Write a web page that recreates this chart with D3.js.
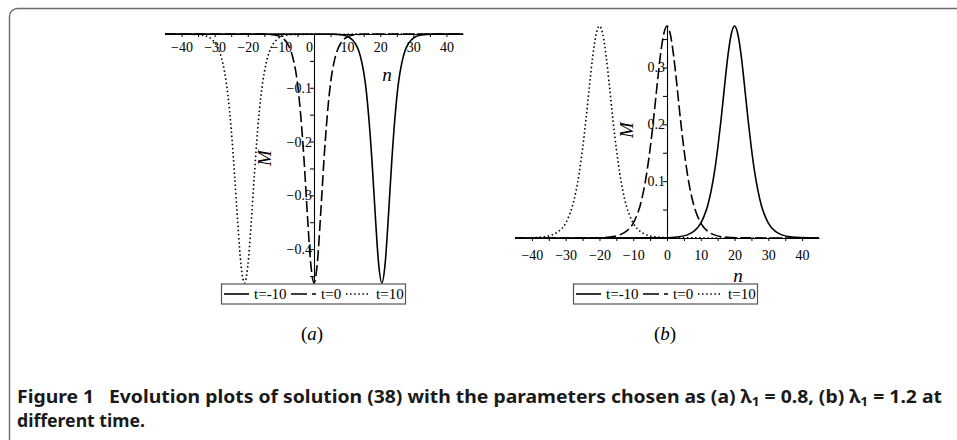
<!DOCTYPE html>
<html>
<head>
<meta charset="utf-8">
<script src="https://cdn.jsdelivr.net/npm/d3@7"></script>
<style>
  body { margin: 0; background: #fff; }
</style>
</head>
<body>
<script>
// legend entries, one per curve
var seriesNames = ["t=-10", "t=0", "t=10"];

// panel (a), lambda1 = 0.8 : dips
var aSolidN = [-45, 5.5, 8.5, 10.5, 12.5, 13.5, 14.5, 15.5, 16.5, 17.5, 18.5, 19.5, 20.5, 21.5, 22.5, 23.5, 24.5, 25.5, 26.5, 27.5, 28.5, 30.5, 32.5, 35.5, 45];
var aSolidM = [0, -0.0003, -0.0018, -0.0056, -0.018, -0.031, -0.054, -0.091, -0.152, -0.235, -0.336, -0.426, -0.463, -0.426, -0.336, -0.235, -0.152, -0.091, -0.054, -0.031, -0.018, -0.0056, -0.0018, -0.0003, 0];
var aDashN = [-45, -15, -12, -10, -8, -7, -6, -5, -4, -3, -2, -1, 0, 1, 2, 3, 4, 5, 6, 7, 8, 10, 12, 15, 45];
var aDashM = [0, -0.0003, -0.0018, -0.0056, -0.018, -0.031, -0.054, -0.091, -0.152, -0.235, -0.336, -0.426, -0.463, -0.426, -0.336, -0.235, -0.152, -0.091, -0.054, -0.031, -0.018, -0.0056, -0.0018, -0.0003, 0];
var aDotN = [-45, -36, -33, -31, -29, -28, -27, -26, -25, -24, -23, -22, -21, -20, -19, -18, -17, -16, -15, -14, -13, -11, -9, -6, 45];
var aDotM = [0, -0.0007, -0.0032, -0.0092, -0.026, -0.043, -0.071, -0.114, -0.177, -0.261, -0.354, -0.432, -0.463, -0.432, -0.354, -0.261, -0.177, -0.114, -0.071, -0.043, -0.026, -0.0092, -0.0032, -0.0007, 0];

// panel (b), lambda1 = 1.2 : peaks
var bSolidN = [-45, -2, 3, 6, 8, 10, 11, 12, 13, 14, 15, 16, 17, 18, 19, 20, 21, 22, 23, 24, 25, 26, 27, 28, 29, 30, 32, 34, 37, 42, 45];
var bSolidM = [0, 0.0002, 0.0017, 0.0055, 0.012, 0.026, 0.039, 0.056, 0.081, 0.114, 0.157, 0.208, 0.265, 0.319, 0.358, 0.373, 0.358, 0.319, 0.265, 0.208, 0.157, 0.114, 0.081, 0.056, 0.039, 0.026, 0.012, 0.0055, 0.0017, 0.0002, 0.0001];
var bDashN = [-45, -22, -17, -14, -12, -10, -9, -8, -7, -6, -5, -4, -3, -2, -1, 0, 1, 2, 3, 4, 5, 6, 7, 8, 9, 10, 12, 14, 17, 22, 45];
var bDashM = [0, 0.0002, 0.0017, 0.0055, 0.012, 0.026, 0.039, 0.056, 0.081, 0.114, 0.157, 0.208, 0.265, 0.319, 0.358, 0.373, 0.358, 0.319, 0.265, 0.208, 0.157, 0.114, 0.081, 0.056, 0.039, 0.026, 0.012, 0.0055, 0.0017, 0.0002, 0];
var bDotN = [-45, -42, -37, -34, -32, -30, -29, -28, -27, -26, -25, -24, -23, -22, -21, -20, -19, -18, -17, -16, -15, -14, -13, -12, -11, -10, -8, -6, -3, 2, 45];
var bDotM = [0.0001, 0.0002, 0.0017, 0.0055, 0.012, 0.026, 0.039, 0.056, 0.081, 0.114, 0.157, 0.208, 0.265, 0.319, 0.358, 0.373, 0.358, 0.319, 0.265, 0.208, 0.157, 0.114, 0.081, 0.056, 0.039, 0.026, 0.012, 0.0055, 0.0017, 0.0002, 0];

var xTicks = d3.range(-40, 41, 5);
var aYTicks = [-0.45, -0.4, -0.35, -0.3, -0.25, -0.2, -0.15, -0.1, -0.05];
var bYTicks = [0.05, 0.1, 0.15, 0.2, 0.25, 0.3, 0.35];

var width = 957, height = 440;
var serif = '"Liberation Serif", "Times New Roman", serif';
var sans = '"Noto Sans", "Open Sans", sans-serif';

var svg = d3.select("body").append("svg")
  .attr("width", width)
  .attr("height", height);

// figure frame, only the top-left corner is inside the picture
svg.append("rect")
  .attr("x", 9.5).attr("y", 8.5)
  .attr("width", 980).attr("height", 460)
  .attr("rx", 8)
  .attr("fill", "none")
  .attr("stroke", "#6a6a6a")
  .attr("stroke-width", 1.4);

var dashStyles = [null, "11,4", "1.5,2.6"];
var legendDash = [null, "16,5", "1.5,2.6"];

var zip = (ns, ms) => ns.map((n, i) => [n, ms[i]]);

function panel(o) {
  var g = svg.append("g");
  var x = o.x, y = o.y;

  // x axis
  var xa = g.append("g")
    .attr("transform", "translate(0," + y(0) + ")")
    .call(d3.axisBottom(x).tickValues(xTicks).tickSize(3).tickSizeOuter(0)
      .tickPadding(o.xPad)
      .tickFormat(d => d % 10 === 0 ? d3.format("d")(d) : ""));
  xa.selectAll("text")
    .style("font-family", serif).style("font-size", "14px")
    .attr("fill", "#000")
    .attr("dx", d => d === 0 ? o.zeroShift : 0);

  // y axis
  var ya = g.append("g")
    .attr("transform", "translate(" + x(0) + ",0)")
    .call(d3.axisLeft(y).tickValues(o.yTicks).tickSize(4).tickSizeOuter(0)
      .tickPadding(-2)
      .tickFormat(d => Math.round(Math.abs(d) * 100) % 10 === 0 ? d3.format(".1f")(d) : ""));
  ya.selectAll("text")
    .style("font-family", serif).style("font-size", "14px")
    .attr("fill", "#000");

  g.selectAll(".domain").attr("stroke", "#000").attr("stroke-width", 1.1);
  g.selectAll(".tick line").attr("stroke", "#000");

  // curves
  var line = d3.line()
    .x(d => x(d[0]))
    .y(d => y(d[1]))
    .curve(d3.curveMonotoneX);

  g.selectAll("path.curve")
    .data(o.series)
    .enter().append("path")
    .attr("class", "curve")
    .attr("d", line)
    .attr("fill", "none")
    .attr("stroke", "#000")
    .attr("stroke-width", 1.6)
    .attr("stroke-dasharray", (d, i) => dashStyles[i]);

  // axis titles
  g.append("text")
    .attr("transform", "translate(" + o.mPos[0] + "," + o.mPos[1] + ") rotate(-90)")
    .attr("text-anchor", "middle")
    .style("font-family", serif).style("font-size", "19px")
    .style("font-style", "italic")
    .text("M");
  g.append("text")
    .attr("x", o.nPos[0]).attr("y", o.nPos[1])
    .attr("text-anchor", "middle")
    .style("font-family", serif).style("font-size", "19px")
    .style("font-style", "italic")
    .text("n");

  // legend
  var lg = g.append("g").attr("transform", "translate(" + o.legend[0] + "," + o.legend[1] + ")");
  lg.append("rect")
    .attr("x", 0.5).attr("y", 0.5)
    .attr("width", 184).attr("height", 20)
    .attr("fill", "#fff")
    .attr("stroke", "#555")
    .attr("stroke-width", 1.2);
  var item = lg.selectAll("g.item")
    .data(seriesNames)
    .enter().append("g")
    .attr("class", "item")
    .attr("transform", (d, i) => "translate(" + [3, 70, 125][i] + ",0)");
  item.append("line")
    .attr("x1", 0).attr("x2", (d, i) => i === 2 ? 23 : 25)
    .attr("y1", 10.5).attr("y2", 10.5)
    .attr("stroke", "#000")
    .attr("stroke-width", 1.6)
    .attr("stroke-dasharray", (d, i) => legendDash[i]);
  item.append("text")
    .attr("x", 30)
    .attr("y", 15.5)
    .style("font-family", serif).style("font-size", "15px")
    .text(d => d);

  // sub caption
  var cap = g.append("text")
    .attr("x", o.cap[0]).attr("y", o.cap[1])
    .attr("text-anchor", "middle")
    .style("font-family", serif).style("font-size", "19px");
  cap.append("tspan").text("(");
  cap.append("tspan").style("font-style", "italic").text(o.letter);
  cap.append("tspan").text(")");
}

panel({
  x: d3.scaleLinear().domain([-45, 45]).range([165, 463]),
  y: d3.scaleLinear().domain([-0.463, 0]).range([283, 34]),
  yTicks: aYTicks,
  xPad: 5,
  zeroShift: -5,
  series: [zip(aSolidN, aSolidM), zip(aDashN, aDashM), zip(aDotN, aDotM)],
  mPos: [271, 158],
  nPos: [387, 81],
  legend: [221, 283.5],
  cap: [312, 340],
  letter: "a"
});

panel({
  x: d3.scaleLinear().domain([-45, 45]).range([515, 819]),
  y: d3.scaleLinear().domain([0, 0.373]).range([238, 26]),
  yTicks: bYTicks,
  xPad: 9,
  zeroShift: 0,
  series: [zip(bSolidN, bSolidM), zip(bDashN, bDashM), zip(bDotN, bDotM)],
  mPos: [633, 130],
  nPos: [738, 282],
  legend: [573, 283.5],
  cap: [665, 340],
  letter: "b"
});

// figure caption
var c1 = svg.append("text")
  .attr("x", 17).attr("y", 403)
  .style("font-family", sans)
  .style("font-weight", "bold")
  .style("font-size", "17px")
  .attr("fill", "#1a1a1a")
  .attr("textLength", 925)
  .attr("lengthAdjust", "spacingAndGlyphs");
c1.append("tspan").text("Figure 1\u2002 Evolution plots of solution (38) with the parameters chosen as (a) \u03bb");
c1.append("tspan").style("font-size", "12px").attr("dy", 3).text("1");
c1.append("tspan").attr("dy", -3).text(" = 0.8, (b) \u03bb");
c1.append("tspan").style("font-size", "12px").attr("dy", 3).text("1");
c1.append("tspan").attr("dy", -3).text(" = 1.2 at");

svg.append("text")
  .attr("x", 17).attr("y", 427)
  .style("font-family", sans)
  .style("font-weight", "bold")
  .style("font-size", "17px")
  .attr("fill", "#1a1a1a")
  .attr("textLength", 128)
  .attr("lengthAdjust", "spacingAndGlyphs")
  .text("different time.");
</script>
</body>
</html>
